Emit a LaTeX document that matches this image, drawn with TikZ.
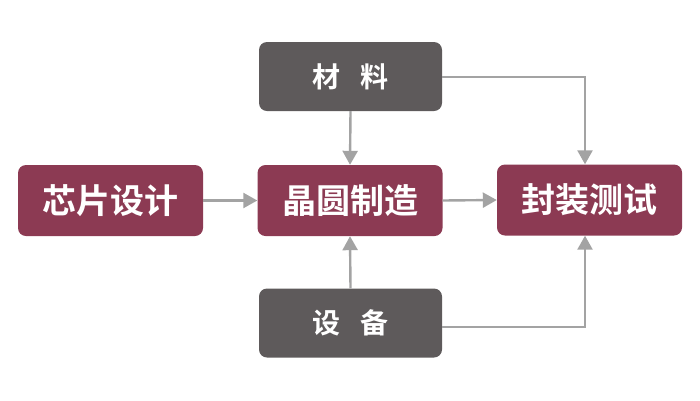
\documentclass[tikz,border=0pt]{standalone}
\usepackage{fontspec}
\newfontfamily\cjk{Noto Sans CJK SC}[BoldFont={* Bold}]
\usetikzlibrary{arrows.meta}
\definecolor{maroon}{HTML}{8C3A53}
\definecolor{darkbox}{HTML}{5E5A5B}
\definecolor{arrowgray}{HTML}{A3A3A3}
\begin{document}
\begin{tikzpicture}[x=1pt,y=-1pt,
  mainbox/.style={fill=maroon,rounded corners=8pt,minimum width=185pt,minimum height=71pt,inner sep=0pt,text=white,font=\cjk\bfseries\fontsize{34}{38}\selectfont},
  sidebox/.style={fill=darkbox,rounded corners=8pt,minimum width=183pt,minimum height=69pt,inner sep=0pt,text=white,font=\cjk\bfseries\fontsize{28}{32}\selectfont},
  conn/.style={draw=arrowgray,line width=2.4pt,-{Triangle[length=14pt,width=15pt]}}]
\useasboundingbox (0,0) rectangle (700,400);
\node[mainbox] (design) at (110.5,200.5) {芯片设计};
\node[mainbox] (fab) at (350,200.5) {晶圆制造};
\node[mainbox] (pack) at (589.5,200) {封装测试};
\node[sidebox] (mat) at (350.5,76.5) {材\hspace{0.7em}料};
\node[sidebox] (eq) at (350.5,323) {设\hspace{0.7em}备};
\coordinate (c1) at (585,77);
\coordinate (c2) at (585,327);
\draw[conn] (design.east) -- (fab.west);
\draw[conn] (fab.east) -- (pack.west);
\draw[conn] (mat.south) -- (fab.north);
\draw[conn] (eq.north) -- (fab.south);
\draw[conn] (mat.east |- c1) -- (c1) -- (pack.north -| c1);
\draw[conn] (eq.east |- c2) -- (c2) -- (pack.south -| c2);
\end{tikzpicture}
\end{document}
